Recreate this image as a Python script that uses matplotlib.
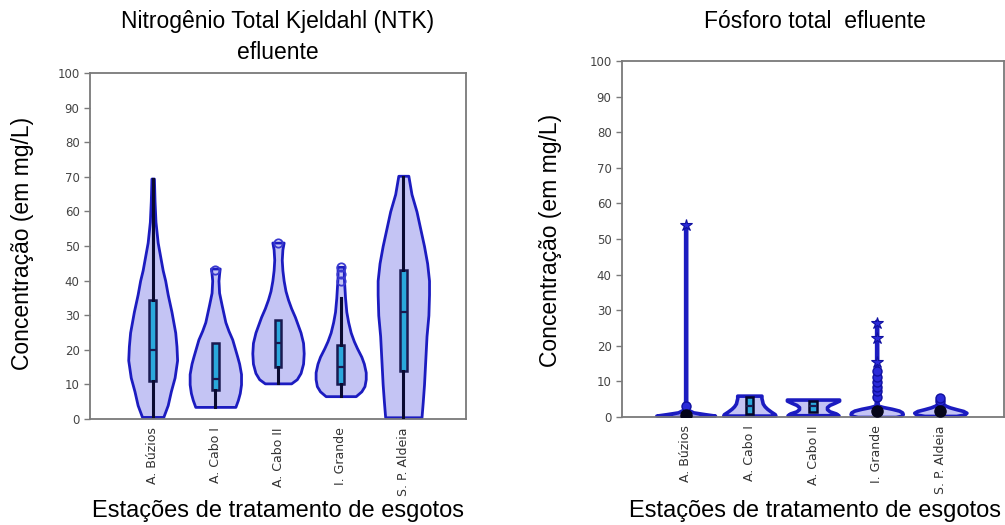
import matplotlib
matplotlib.use("Agg")
import matplotlib.pyplot as plt
import numpy as np

# categorias (estações)
stations = ["A. Búzios", "A. Cabo I", "A. Cabo II", "I. Grande", "S. P. Aldeia"]
positions = [1, 2, 3, 4, 5]

# --- NTK: contorno dos violinos (nível y, meia-largura) ---
ntk_violin_y = [
    [0.6, 4, 8, 12, 17, 21, 25, 31, 36, 40, 43, 47, 51, 57, 63, 69.5],
    [3.5, 5.5, 7.5, 10, 13, 16, 18, 20.5, 23, 25.5, 28, 30.5, 33, 36.5, 40, 42, 43.5],
    [10.3, 11.5, 13.3, 16, 19, 22, 25, 27.5, 29.5, 32, 34.5, 37, 40, 43, 46, 49, 51],
    [6.6, 8, 9.5, 11.5, 13.5, 16, 18, 20.5, 22.5, 25, 28, 31, 35, 38, 41, 44],
    [0.5, 5, 10, 17, 24, 30, 36, 40, 45, 50, 55, 60, 65, 70.3],
]
ntk_violin_w = [
    [0.17, 0.24, 0.29, 0.35, 0.39, 0.38, 0.36, 0.30, 0.24, 0.20, 0.16, 0.12, 0.08, 0.045, 0.03, 0.02],
    [0.32, 0.36, 0.39, 0.41, 0.41, 0.38, 0.35, 0.31, 0.27, 0.21, 0.16, 0.13, 0.10, 0.06, 0.05, 0.06, 0.07],
    [0.21, 0.30, 0.36, 0.40, 0.41, 0.40, 0.36, 0.31, 0.27, 0.21, 0.16, 0.12, 0.09, 0.07, 0.06, 0.07, 0.09],
    [0.24, 0.33, 0.38, 0.40, 0.40, 0.37, 0.33, 0.26, 0.21, 0.16, 0.12, 0.09, 0.07, 0.06, 0.05, 0.05],
    [0.29, 0.31, 0.33, 0.35, 0.37, 0.40, 0.41, 0.41, 0.38, 0.33, 0.27, 0.21, 0.13, 0.08],
]
# boxplot NTK: whislo, q1, med, q3, whishi
ntk_whislo = [1, 3.5, 10.3, 6.6, 0.5]
ntk_q1 = [11, 8.5, 15, 10, 14]
ntk_med = [20, 11.5, 22, 15, 31]
ntk_q3 = [34.5, 22, 28.5, 21.5, 43]
ntk_whishi = [69.5, 22, 28.5, 35, 70]
ntk_out_x = [2, 3, 4, 4, 4]
ntk_out_y = [43, 51, 40, 42, 44]

# --- Fósforo total ---
p_violin_y = [
    [0, 0.4, 0.8, 1.3, 2, 3, 5, 54],
    [0.4, 0.8, 1.5, 2.3, 3, 3.8, 4.6, 5.3, 6.0],
    [0.5, 1, 1.6, 2.2, 2.8, 3.4, 4, 4.6, 4.9],
    [0, 0.3, 0.8, 1.3, 1.8, 2.3, 2.8, 3.2, 5, 27],
    [0.3, 0.7, 1.2, 1.7, 2.2, 2.7, 3.2, 3.8, 4.5],
]
p_violin_w = [
    [0.20, 0.46, 0.30, 0.12, 0.04, 0.012, 0.008, 0.008],
    [0.41, 0.40, 0.34, 0.28, 0.24, 0.21, 0.20, 0.19, 0.19],
    [0.40, 0.36, 0.26, 0.22, 0.22, 0.26, 0.34, 0.41, 0.41],
    [0.30, 0.38, 0.41, 0.40, 0.35, 0.24, 0.10, 0.02, 0.008, 0.008],
    [0.25, 0.38, 0.41, 0.36, 0.25, 0.15, 0.08, 0.04, 0.02],
]
p_whislo = [0.2, 0.8, 1.3, 1.0, 1.2]
p_q1 = [0.3, 0.8, 1.3, 1.3, 1.3]
p_med = [0.5, 3.0, 3.0, 1.6, 1.6]
p_q3 = [0.9, 5.6, 4.6, 2.0, 2.0]
p_whishi = [0.9, 5.6, 4.6, 2.0, 2.0]
p_circle_x = [1, 4, 4, 4, 4, 4, 4, 5, 5]
p_circle_y = [3, 5.5, 7.2, 8.4, 9.8, 11.2, 12.8, 4.5, 5.2]
p_star_x = [1, 4, 4, 4]
p_star_y = [54, 26.5, 22.2, 15.5]
# medianas muito baixas aparecem como ponto preto
p_dot_x = [1, 4, 5]
p_dot_y = [0.5, 1.6, 1.6]

VIOLIN_FACE = "#c4c4f4"
VIOLIN_EDGE = "#1c1cc0"
BOX_FACE = "#2aa8dc"
SPINE = "#7a7a7a"


def draw_panel(ax, vy, vw, whislo, q1, med, q3, whishi, box_w, box_edge, lw):
    stats = []
    for y, w in zip(vy, vw):
        y = np.asarray(y, float)
        w = np.asarray(w, float)
        stats.append(dict(coords=y, vals=w, mean=y.mean(), median=np.median(y),
                          min=y.min(), max=y.max()))
    widths = [2 * max(w) for w in vw]
    parts = ax.violin(stats, positions=positions, widths=widths,
                      showextrema=False)
    for body in parts["bodies"]:
        body.set_facecolor(VIOLIN_FACE)
        body.set_edgecolor(VIOLIN_EDGE)
        body.set_linewidth(lw)
        body.set_alpha(1)
        body.set_zorder(2)

    bstats = [dict(whislo=a, q1=b, med=c, q3=d, whishi=e, fliers=[])
              for a, b, c, d, e in zip(whislo, q1, med, q3, whishi)]
    ax.bxp(bstats, positions=positions, widths=box_w, patch_artist=True,
           showcaps=False, showfliers=False,
           boxprops=dict(facecolor=BOX_FACE, edgecolor=box_edge, linewidth=1.8),
           whiskerprops=dict(color="#0a0a30", linewidth=2.2),
           medianprops=dict(color="#1a1a50", linewidth=1.6),
           zorder=3)


def style_axes(ax):
    ax.set_xlim(0, 6)
    ax.set_ylim(0, 100)
    ax.set_yticks(np.arange(0, 101, 10))
    ax.set_xticks(positions)
    ax.set_xticklabels(stations, rotation=90, fontsize=9, color="#333333",
                       family="DejaVu Sans")
    ax.tick_params(axis="x", length=0, pad=6)
    ax.tick_params(axis="y", length=4, width=1, color=SPINE, labelsize=8.5,
                   labelcolor="#444444")
    for s in ax.spines.values():
        s.set_color(SPINE)
        s.set_linewidth(1.3)


fig = plt.figure(figsize=(10.05, 5.25), dpi=100)
ax1 = fig.add_axes([90 / 1005, 106 / 525, 376 / 1005, 346 / 525])
ax2 = fig.add_axes([622 / 1005, 108 / 525, 382 / 1005, 356 / 525])

draw_panel(ax1, ntk_violin_y, ntk_violin_w, ntk_whislo, ntk_q1, ntk_med,
           ntk_q3, ntk_whishi, 0.11, "#1a1a50", 2.0)
ax1.plot(ntk_out_x, ntk_out_y, "o", ms=6, mfc="none", mec="#3a3ad0", mew=1.3,
         zorder=4)
style_axes(ax1)

draw_panel(ax2, p_violin_y, p_violin_w, p_whislo, p_q1, p_med, p_q3,
           p_whishi, 0.12, "#05052a", 2.6)
ax2.plot(p_circle_x, p_circle_y, "o", ms=6.5, mfc="#2a2ad8", mec="#1010a0",
         mew=1, zorder=4)
ax2.plot(p_star_x, p_star_y, "*", ms=9, mfc="#2a2ad8", mec="#1010a0",
         mew=0.8, zorder=4)
ax2.plot(p_dot_x, p_dot_y, "o", ms=8, mfc="#05051a", mec="#05051a", zorder=5)
style_axes(ax2)

sans = ["Liberation Sans", "DejaVu Sans"]
fig.text(278 / 1005, 1 - 37 / 525, "Nitrogênio Total Kjeldahl (NTK)\nefluente",
         ha="center", va="center", fontsize=16.5, family=sans, linespacing=1.45)
fig.text(815 / 1005, 1 - 22 / 525, "Fósforo total  efluente",
         ha="center", va="center", fontsize=16.5, family=sans)
fig.text(22 / 1005, 1 - 243 / 525, "Concentração (em mg/L)", rotation=90,
         ha="center", va="center", fontsize=16.5, family=sans)
fig.text(550 / 1005, 1 - 240 / 525, "Concentração (em mg/L)", rotation=90,
         ha="center", va="center", fontsize=16.5, family=sans)
fig.text(278 / 1005, 1 - 511 / 525, "Estações de tratamento de esgotos",
         ha="center", va="center", fontsize=17, family=sans)
fig.text(815 / 1005, 1 - 511 / 525, "Estações de tratamento de esgotos",
         ha="center", va="center", fontsize=17, family=sans)

fig.savefig("out.png", dpi=100)
